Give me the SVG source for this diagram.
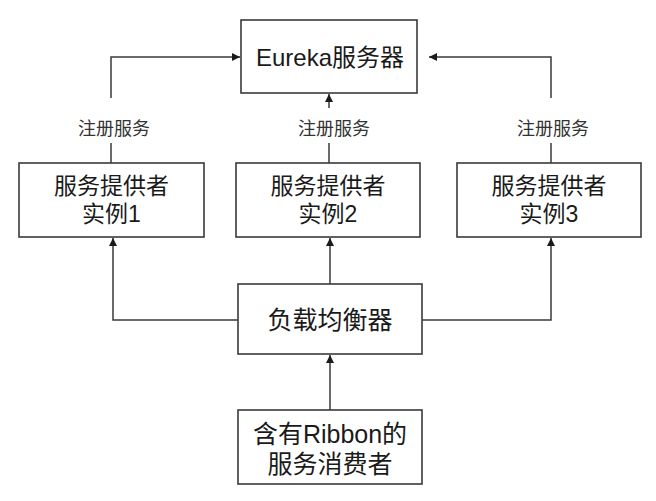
<svg xmlns="http://www.w3.org/2000/svg" width="656" height="501" viewBox="0 0 656 501">
<style>
.box{fill:#fff;stroke:#3a3a3a;stroke-width:1.6}
.t{font-family:"Liberation Sans","Noto Sans CJK SC",sans-serif;fill:#1a1a1a;text-anchor:middle;dominant-baseline:central}
.lbl{font-family:"Noto Sans CJK SC",sans-serif;fill:#333;text-anchor:middle;dominant-baseline:central;font-size:18px}
.ln{fill:none;stroke:#3a3a3a;stroke-width:1.5}
</style>
<defs>
<marker id="ah" viewBox="0 0 10 10" refX="10" refY="5" markerWidth="8" markerHeight="8" markerUnits="userSpaceOnUse" orient="auto">
<path d="M0,0 L10,5 L0,10 z" fill="#1a1a1a"/>
</marker>
</defs>
<rect width="656" height="501" fill="#fff"/>
<g id="connectors">
<polyline class="ln" points="111,163 111,143"/>
<polyline class="ln" points="111,98 111,57 240,57" marker-end="url(#ah)"/>
<polyline class="ln" points="329,163 329,143"/>
<polyline class="ln" points="329,108 329,94" marker-end="url(#ah)"/>
<polyline class="ln" points="551,163 551,143"/>
<polyline class="ln" points="551,98 551,57 429,57" marker-end="url(#ah)"/>
<polyline class="ln" points="238,320 113,320 113,238" marker-end="url(#ah)"/>
<polyline class="ln" points="330,284 330,238" marker-end="url(#ah)"/>
<polyline class="ln" points="422,320 551,320 551,238" marker-end="url(#ah)"/>
<polyline class="ln" points="330,410 330,355" marker-end="url(#ah)"/>
<text class="lbl" x="114" y="127">注册服务</text>
<text class="lbl" x="334" y="127">注册服务</text>
<text class="lbl" x="553" y="127">注册服务</text>
</g>
<g id="eureka">
<rect class="box" x="241" y="20" width="176" height="73"/>
<text class="t" x="330" y="57" font-size="24">Eureka服务器</text>
</g>
<g id="provider1">
<rect class="box" x="19" y="163" width="185" height="74"/>
<text class="t" font-size="23"><tspan x="111.5" y="186">服务提供者</tspan><tspan x="111.5" y="214">实例1</tspan></text>
</g>
<g id="provider2">
<rect class="box" x="236" y="163" width="184" height="74"/>
<text class="t" font-size="23"><tspan x="328" y="186">服务提供者</tspan><tspan x="328" y="214">实例2</tspan></text>
</g>
<g id="provider3">
<rect class="box" x="457" y="163" width="184" height="74"/>
<text class="t" font-size="23"><tspan x="549" y="186">服务提供者</tspan><tspan x="549" y="214">实例3</tspan></text>
</g>
<g id="loadbalancer">
<rect class="box" x="238" y="284" width="184" height="70"/>
<text class="t" x="330" y="320" font-size="25">负载均衡器</text>
</g>
<g id="consumer">
<rect class="box" x="238" y="410" width="184" height="74"/>
<text class="t" font-size="25"><tspan x="330" y="434">含有Ribbon的</tspan><tspan x="330" y="464">服务消费者</tspan></text>
</g>
</svg>
